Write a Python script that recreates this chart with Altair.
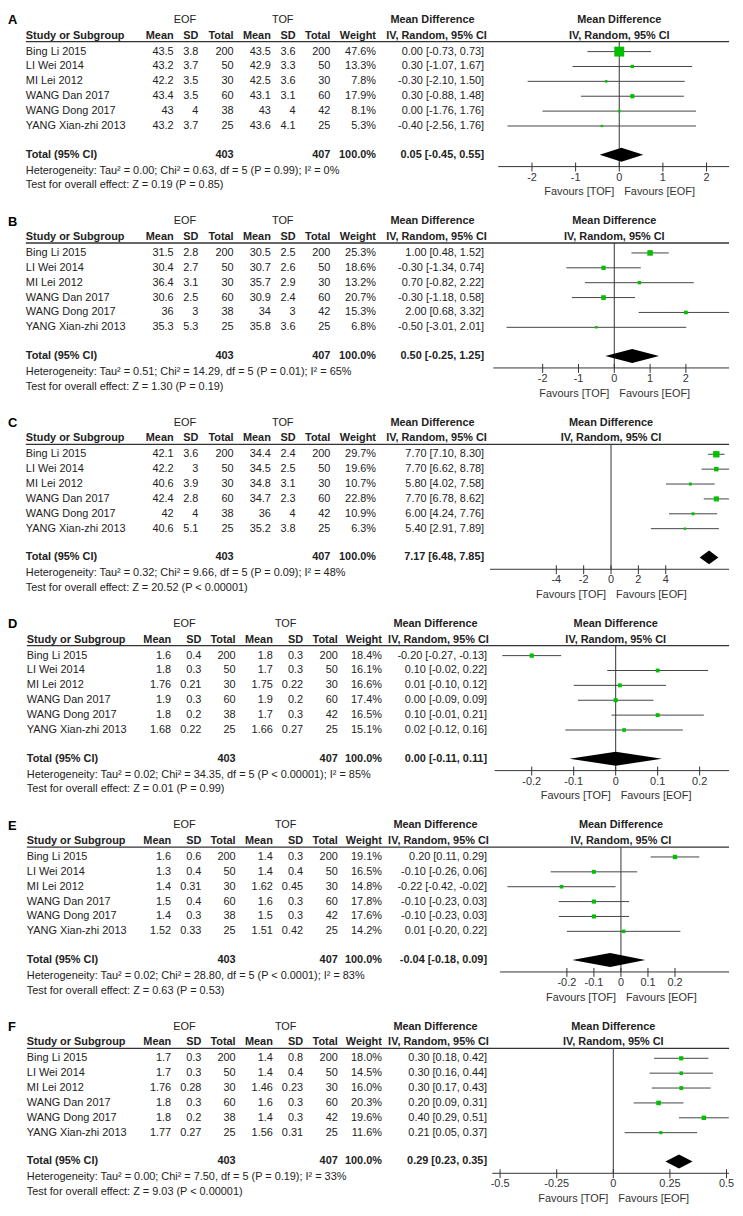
import altair as alt
import pandas as pd

FONT = "Liberation Sans"

# ---------------- data ----------------
STUDIES = ["Bing Li 2015", "LI Wei 2014", "MI Lei 2012", "WANG Dan 2017",
           "WANG Dong 2017", "YANG Xian-zhi 2013"]
EOF_N = [200, 50, 30, 60, 38, 25]
TOF_N = [200, 50, 30, 60, 42, 25]
TOTAL_EOF = 403
TOTAL_TOF = 407
TOTAL_WEIGHT = 100.0

# Panel A
A_EOF_MEAN = [43.5, 43.2, 42.2, 43.4, 43, 43.2]
A_EOF_SD = [3.8, 3.7, 3.5, 3.5, 4, 3.7]
A_TOF_MEAN = [43.5, 42.9, 42.5, 43.1, 43, 43.6]
A_TOF_SD = [3.6, 3.3, 3.6, 3.1, 4, 4.1]
A_WEIGHT = [47.6, 13.3, 7.8, 17.9, 8.1, 5.3]
A_MD = [0.00, 0.30, -0.30, 0.30, 0.00, -0.40]
A_LO = [-0.73, -1.07, -2.10, -0.88, -1.76, -2.56]
A_HI = [0.73, 1.67, 1.50, 1.48, 1.76, 1.76]
A_TOTAL = [0.05, -0.45, 0.55]
A_HET = "Heterogeneity: Tau² = 0.00; Chi² = 0.63, df = 5 (P = 0.99); I² = 0%"
A_TEST = "Test for overall effect: Z = 0.19 (P = 0.85)"
A_TICKS = [-2, -1, 0, 1, 2]

# Panel B
B_EOF_MEAN = [31.5, 30.4, 36.4, 30.6, 36, 35.3]
B_EOF_SD = [2.8, 2.7, 3.1, 2.5, 3, 5.3]
B_TOF_MEAN = [30.5, 30.7, 35.7, 30.9, 34, 35.8]
B_TOF_SD = [2.5, 2.6, 2.9, 2.4, 3, 3.6]
B_WEIGHT = [25.3, 18.6, 13.2, 20.7, 15.3, 6.8]
B_MD = [1.00, -0.30, 0.70, -0.30, 2.00, -0.50]
B_LO = [0.48, -1.34, -0.82, -1.18, 0.68, -3.01]
B_HI = [1.52, 0.74, 2.22, 0.58, 3.32, 2.01]
B_TOTAL = [0.50, -0.25, 1.25]
B_HET = "Heterogeneity: Tau² = 0.51; Chi² = 14.29, df = 5 (P = 0.01); I² = 65%"
B_TEST = "Test for overall effect: Z = 1.30 (P = 0.19)"
B_TICKS = [-2, -1, 0, 1, 2]

# Panel C
C_EOF_MEAN = [42.1, 42.2, 40.6, 42.4, 42, 40.6]
C_EOF_SD = [3.6, 3, 3.9, 2.8, 4, 5.1]
C_TOF_MEAN = [34.4, 34.5, 34.8, 34.7, 36, 35.2]
C_TOF_SD = [2.4, 2.5, 3.1, 2.3, 4, 3.8]
C_WEIGHT = [29.7, 19.6, 10.7, 22.8, 10.9, 6.3]
C_MD = [7.70, 7.70, 5.80, 7.70, 6.00, 5.40]
C_LO = [7.10, 6.62, 4.02, 6.78, 4.24, 2.91]
C_HI = [8.30, 8.78, 7.58, 8.62, 7.76, 7.89]
C_TOTAL = [7.17, 6.48, 7.85]
C_HET = "Heterogeneity: Tau² = 0.32; Chi² = 9.66, df = 5 (P = 0.09); I² = 48%"
C_TEST = "Test for overall effect: Z = 20.52 (P < 0.00001)"
C_TICKS = [-4, -2, 0, 2, 4]

# Panel D
D_EOF_MEAN = [1.6, 1.8, 1.76, 1.9, 1.8, 1.68]
D_EOF_SD = [0.4, 0.3, 0.21, 0.3, 0.2, 0.22]
D_TOF_MEAN = [1.8, 1.7, 1.75, 1.9, 1.7, 1.66]
D_TOF_SD = [0.3, 0.3, 0.22, 0.2, 0.3, 0.27]
D_WEIGHT = [18.4, 16.1, 16.6, 17.4, 16.5, 15.1]
D_MD = [-0.20, 0.10, 0.01, 0.00, 0.10, 0.02]
D_LO = [-0.27, -0.02, -0.10, -0.09, -0.01, -0.12]
D_HI = [-0.13, 0.22, 0.12, 0.09, 0.21, 0.16]
D_TOTAL = [0.00, -0.11, 0.11]
D_HET = "Heterogeneity: Tau² = 0.02; Chi² = 34.35, df = 5 (P < 0.00001); I² = 85%"
D_TEST = "Test for overall effect: Z = 0.01 (P = 0.99)"
D_TICKS = [-0.2, -0.1, 0, 0.1, 0.2]

# Panel E
E_EOF_MEAN = [1.6, 1.3, 1.4, 1.5, 1.4, 1.52]
E_EOF_SD = [0.6, 0.4, 0.31, 0.4, 0.3, 0.33]
E_TOF_MEAN = [1.4, 1.4, 1.62, 1.6, 1.5, 1.51]
E_TOF_SD = [0.3, 0.4, 0.45, 0.3, 0.3, 0.42]
E_WEIGHT = [19.1, 16.5, 14.8, 17.8, 17.6, 14.2]
E_MD = [0.20, -0.10, -0.22, -0.10, -0.10, 0.01]
E_LO = [0.11, -0.26, -0.42, -0.23, -0.23, -0.20]
E_HI = [0.29, 0.06, -0.02, 0.03, 0.03, 0.22]
E_TOTAL = [-0.04, -0.18, 0.09]
E_HET = "Heterogeneity: Tau² = 0.02; Chi² = 28.80, df = 5 (P < 0.0001); I² = 83%"
E_TEST = "Test for overall effect: Z = 0.63 (P = 0.53)"
E_TICKS = [-0.2, -0.1, 0, 0.1, 0.2]

# Panel F
F_EOF_MEAN = [1.7, 1.7, 1.76, 1.8, 1.8, 1.77]
F_EOF_SD = [0.3, 0.3, 0.28, 0.3, 0.2, 0.27]
F_TOF_MEAN = [1.4, 1.4, 1.46, 1.6, 1.4, 1.56]
F_TOF_SD = [0.8, 0.4, 0.23, 0.3, 0.3, 0.31]
F_WEIGHT = [18.0, 14.5, 16.0, 20.3, 19.6, 11.6]
F_MD = [0.30, 0.30, 0.30, 0.20, 0.40, 0.21]
F_LO = [0.18, 0.16, 0.17, 0.09, 0.29, 0.05]
F_HI = [0.42, 0.44, 0.43, 0.31, 0.51, 0.37]
F_TOTAL = [0.29, 0.23, 0.35]
F_HET = "Heterogeneity: Tau² = 0.00; Chi² = 7.50, df = 5 (P = 0.19); I² = 33%"
F_TEST = "Test for overall effect: Z = 9.03 (P < 0.00001)"
F_TICKS = [-0.5, -0.25, 0, 0.25, 0.5]

PANELS = [
    ("A", A_EOF_MEAN, A_EOF_SD, A_TOF_MEAN, A_TOF_SD, A_WEIGHT, A_MD, A_LO, A_HI, A_TOTAL, A_HET, A_TEST, A_TICKS),
    ("B", B_EOF_MEAN, B_EOF_SD, B_TOF_MEAN, B_TOF_SD, B_WEIGHT, B_MD, B_LO, B_HI, B_TOTAL, B_HET, B_TEST, B_TICKS),
    ("C", C_EOF_MEAN, C_EOF_SD, C_TOF_MEAN, C_TOF_SD, C_WEIGHT, C_MD, C_LO, C_HI, C_TOTAL, C_HET, C_TEST, C_TICKS),
    ("D", D_EOF_MEAN, D_EOF_SD, D_TOF_MEAN, D_TOF_SD, D_WEIGHT, D_MD, D_LO, D_HI, D_TOTAL, D_HET, D_TEST, D_TICKS),
    ("E", E_EOF_MEAN, E_EOF_SD, E_TOF_MEAN, E_TOF_SD, E_WEIGHT, E_MD, E_LO, E_HI, E_TOTAL, E_HET, E_TEST, E_TICKS),
    ("F", F_EOF_MEAN, F_EOF_SD, F_TOF_MEAN, F_TOF_SD, F_WEIGHT, F_MD, F_LO, F_HI, F_TOTAL, F_HET, F_TEST, F_TICKS),
]

# ---------------- layout (not data) ----------------
W, H = 727, 186
ROW_PX = 15
Y_TOP = -2.6
Y_DOMAIN = [Y_TOP, Y_TOP + H / ROW_PX]
R_LETTER, R_HDR1, R_HDR2, R_LINE = -2.1, -2.133, -1.067, -0.667
R_TOTAL, R_HET, R_TEST = 6.93, 8.0, 9.0
R_AXIS, R_TICKLBL, R_FAV = 7.73, 8.47, 9.47
DIAMOND_HALF = 0.47

COLS_ABC = dict(study=18, eof_mean=167, eof_sd=192, eof_n=227.5, tof_mean=265,
                tof_sd=290, tof_n=325, weight=371, md=480, eof_hdr=178.5,
                tof_hdr=277, md_hdr1=428, md_hdr2=432, letter=0)
COLS_DEF = dict(study=19, eof_mean=164.5, eof_sd=195, eof_n=229.5, tof_mean=267,
                tof_sd=297.5, tof_n=332.5, weight=377, md=483, eof_hdr=178,
                tof_hdr=280, md_hdr1=431, md_hdr2=434, letter=0)
FOREST_ZERO = {"A": 616.3, "B": 611.3, "C": 608.0, "D": 612.7, "E": 618.0, "F": 610.3}
FOREST_PX = {"A": 44.0, "B": 36.1, "C": 13.79, "D": 423.3, "E": 272.5, "F": 228.3}
FOREST_HALF = 122

TXT = "#222222"
GREEN = "#00c000"


def g(v):
    return f"{v:g}"


def ysc():
    return alt.Scale(domain=Y_DOMAIN, range=[0, H], zero=False, nice=False)


def Yf(field):
    return alt.Y(field, type="quantitative", scale=ysc(), axis=None)


def text_layer(rows, align, bold=False, size=11, color=TXT):
    df = pd.DataFrame(rows, columns=["cx", "row", "text"])
    return alt.Chart(df).mark_text(
        align=align, baseline="middle", font=FONT, fontSize=size,
        fontWeight="bold" if bold else "normal", color=color
    ).encode(x=alt.X("cx:Q", scale=None, axis=None), y=Yf("row"), text="text:N")


def build_panel(letter, eof_mean, eof_sd, tof_mean, tof_sd, weight, md, lo, hi,
                total, het, test, ticks):
    c = COLS_ABC if letter in "ABC" else COLS_DEF
    left, right, center, bleft, bright, bcenter = [], [], [], [], [], []
    center += [(c["eof_hdr"], R_HDR1, "EOF"), (c["tof_hdr"], R_HDR1, "TOF")]
    bcenter += [(c["md_hdr1"], R_HDR1, "Mean Difference"),
                (c["md_hdr2"], R_HDR2, "IV, Random, 95% CI")]
    bleft += [(c["study"], R_HDR2, "Study or Subgroup"),
              (c["study"], R_TOTAL, "Total (95% CI)")]
    for key, lab in [("eof_mean", "Mean"), ("eof_sd", "SD"), ("eof_n", "Total"),
                     ("tof_mean", "Mean"), ("tof_sd", "SD"), ("tof_n", "Total"),
                     ("weight", "Weight")]:
        bright.append((c[key], R_HDR2, lab))
    for i, s in enumerate(STUDIES):
        left.append((c["study"], i, s))
        right += [(c["eof_mean"], i, g(eof_mean[i])), (c["eof_sd"], i, g(eof_sd[i])),
                  (c["eof_n"], i, str(EOF_N[i])), (c["tof_mean"], i, g(tof_mean[i])),
                  (c["tof_sd"], i, g(tof_sd[i])), (c["tof_n"], i, str(TOF_N[i])),
                  (c["weight"], i, f"{weight[i]:.1f}%"),
                  (c["md"], i, f"{md[i]:.2f} [{lo[i]:.2f}, {hi[i]:.2f}]")]
    bright += [(c["eof_n"], R_TOTAL, str(TOTAL_EOF)), (c["tof_n"], R_TOTAL, str(TOTAL_TOF)),
               (c["weight"], R_TOTAL, f"{TOTAL_WEIGHT:.1f}%"),
               (c["md"], R_TOTAL, f"{total[0]:.2f} [{total[1]:.2f}, {total[2]:.2f}]")]
    left += [(c["study"], R_HET, het), (c["study"], R_TEST, test)]

    layers = [
        text_layer([(c["letter"], R_LETTER, letter)], "left", bold=True, size=13, color="#000"),
        text_layer(left, "left"),
        text_layer(right, "right"),
        text_layer(center, "center"),
        text_layer(bleft, "left", bold=True),
        text_layer(bright, "right", bold=True),
        text_layer(bcenter, "center", bold=True),
    ]
    hl = pd.DataFrame({"cx": [c["study"]], "cx2": [W], "row": [R_LINE]})
    layers.append(alt.Chart(hl).mark_rule(color="#333", strokeWidth=1.3).encode(
        x=alt.X("cx:Q", scale=None, axis=None), x2="cx2:Q", y=Yf("row")))

    # ---------- forest plot ----------
    z = FOREST_ZERO[letter]
    k = FOREST_PX[letter]
    L = FOREST_HALF / k
    xs = alt.Scale(domain=[-L, L], range=[z - FOREST_HALF, z + FOREST_HALF],
                   zero=False, nice=False)

    def Xf(f):
        return alt.X(f, type="quantitative", scale=xs, axis=None)

    studies_df = pd.DataFrame({"row": list(range(len(STUDIES))), "md": md,
                               "lo": lo, "hi": hi, "w": weight})
    whisk = alt.Chart(studies_df).mark_rule(color="#444", strokeWidth=1, clip=True).encode(
        x=Xf("lo"), x2="hi", y=Yf("row"))
    sq = alt.Chart(studies_df).mark_square(color=GREEN, opacity=1).encode(
        x=Xf("md"), y=Yf("row"),
        size=alt.Size("w:Q", scale=alt.Scale(type="pow", exponent=2, domain=[0, 50],
                                             range=[4, 110]), legend=None))
    dia_df = pd.DataFrame({
        "x": [total[1], total[0], total[2]],
        "y": [R_TOTAL, R_TOTAL - DIAMOND_HALF, R_TOTAL],
        "y2": [R_TOTAL, R_TOTAL + DIAMOND_HALF, R_TOTAL]})
    dia = alt.Chart(dia_df).mark_area(color="#000", opacity=1).encode(
        x=Xf("x"), y=Yf("y"), y2="y2:Q")
    zero_df = pd.DataFrame({"x": [0], "y": [R_LINE], "y2": [R_AXIS]})
    zero = alt.Chart(zero_df).mark_rule(color="#333", strokeWidth=1).encode(
        x=Xf("x"), y=Yf("y"), y2="y2:Q")
    ax_df = pd.DataFrame({"x": [-L], "x2": [L], "y": [R_AXIS]})
    axis_line = alt.Chart(ax_df).mark_rule(color="#333", strokeWidth=1, clip=True).encode(
        x=Xf("x"), x2="x2:Q", y=Yf("y"))
    tick_df = pd.DataFrame({"t": ticks, "lab": [g(t) for t in ticks],
                            "y": [R_AXIS - 0.27] * len(ticks),
                            "y2": [R_AXIS + 0.33] * len(ticks),
                            "yl": [R_TICKLBL] * len(ticks)})
    tick_rules = alt.Chart(tick_df).mark_rule(color="#333", strokeWidth=1).encode(
        x=Xf("t"), y=Yf("y"), y2="y2:Q")
    tick_labs = alt.Chart(tick_df).mark_text(
        align="center", baseline="middle", font=FONT, fontSize=11, color="#333").encode(
        x=Xf("t"), y=Yf("yl"), text="lab:N")
    fav_df = pd.DataFrame({"x": [0], "y": [R_FAV]})
    fav_l = alt.Chart(fav_df).mark_text(
        align="right", baseline="middle", font=FONT, fontSize=11, color="#333", dx=-5,
        text="Favours [TOF]").encode(x=Xf("x"), y=Yf("y"))
    fav_r = alt.Chart(fav_df).mark_text(
        align="left", baseline="middle", font=FONT, fontSize=11, color="#333", dx=5,
        text="Favours [EOF]").encode(x=Xf("x"), y=Yf("y"))
    hdr_df = pd.DataFrame({"x": [0, 0], "y": [R_HDR1, R_HDR2],
                           "text": ["Mean Difference", "IV, Random, 95% CI"]})
    hdr = alt.Chart(hdr_df).mark_text(
        align="center", baseline="middle", font=FONT, fontSize=11, fontWeight="bold",
        color=TXT).encode(x=Xf("x"), y=Yf("y"), text="text:N")

    forest = alt.layer(zero, axis_line, tick_rules, tick_labs, whisk, sq, dia,
                       fav_l, fav_r, hdr)
    layers.append(forest)
    return alt.layer(*layers).properties(width=W, height=H).resolve_scale(x="independent")


panels = [build_panel(*p) for p in PANELS]
chart = alt.vconcat(*panels, spacing=16).properties(padding=0).configure_view(stroke=None)
chart.save("out.html", embed_options={"renderer": "svg", "actions": False})
